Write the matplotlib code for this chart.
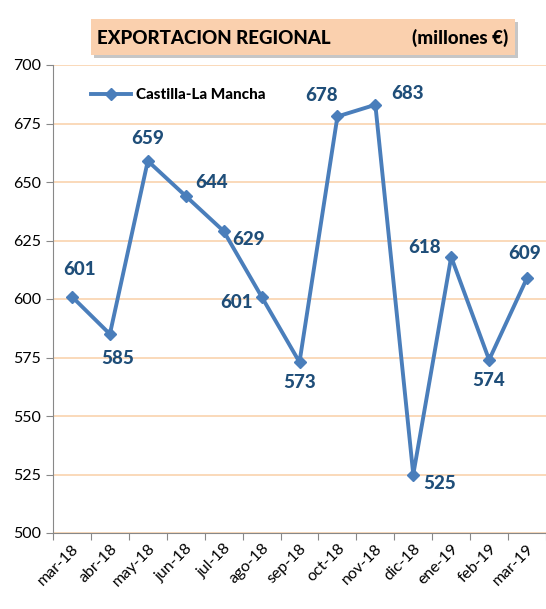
"""Exportacion regional Castilla-La Mancha, line chart."""
import matplotlib

matplotlib.use("Agg")
import matplotlib.pyplot as plt
from matplotlib.patches import FancyBboxPatch

months = ["mar-18", "abr-18", "may-18", "jun-18", "jul-18", "ago-18", "sep-18",
          "oct-18", "nov-18", "dic-18", "ene-19", "feb-19", "mar-19"]
exports = [601, 585, 659, 644, 629, 601, 573, 678, 683, 525, 618, 574, 609]
y_ticks = [500, 525, 550, 575, 600, 625, 650, 675, 700]

# label offsets in pixels (dx, dy) relative to each point
label_offsets = [(8, 27), (8, -24), (0, 22), (26, 14), (25, -8), (-25, -6),
                 (0, -20), (-16, 21), (32, 11), (26, -9), (-27, 9), (0, -21), (-2, 24)]

LINE_COLOR = "#4A7EBB"
LABEL_COLOR = "#1F4E79"
GRID_COLOR = "#F9D3AE"

plt.rcParams["font.family"] = ["Lato", "DejaVu Sans"]

fig = plt.figure(figsize=(5.46, 6.09), dpi=100)
ax = fig.add_axes([53 / 546, 1 - 533 / 609, 1 - 53 / 546, (533 - 65) / 609])

x = list(range(len(months)))
ax.plot(x, exports, color=LINE_COLOR, linewidth=2.8, marker="D", markersize=6,
        label="Castilla-La Mancha", zorder=3)

for xi, val, (dx, dy) in zip(x, exports, label_offsets):
    ax.annotate(str(val), (xi, val), xytext=(dx, dy), textcoords="offset pixels",
                ha="center", va="center", fontsize=13.5, fontweight="black",
                color=LABEL_COLOR)

ax.set_ylim(500, 700)
ax.set_yticks(y_ticks)
ax.set_xlim(-0.5, len(months) - 0.5)
ax.set_xticks([i - 0.5 for i in range(len(months) + 1)], labels=[])
ax.set_xticks(x, labels=months, minor=True)
ax.tick_params(axis="x", which="minor", length=0, pad=6)
ax.tick_params(axis="x", which="major", length=5, color="#888888")
ax.tick_params(axis="y", length=5, color="#888888", labelsize=11.5)
for lbl in ax.get_xticklabels(minor=True):
    lbl.set_rotation(45)
    lbl.set_ha("right")
    lbl.set_rotation_mode("anchor")
    lbl.set_fontsize(11.5)

ax.grid(axis="y", color=GRID_COLOR, linewidth=1.2)
ax.set_axisbelow(True)
for side in ("top", "right"):
    ax.spines[side].set_visible(False)
for side in ("left", "bottom"):
    ax.spines[side].set_color("#888888")

leg = ax.legend(loc="upper left", bbox_to_anchor=(0.05, 0.98), frameon=False,
                prop={"weight": "black", "size": 11}, handlelength=2.6,
                handletextpad=0.3)

# title box with shadow
shadow = FancyBboxPatch((94 / 546, 1 - 58 / 609), 424 / 546, 36 / 609,
                        boxstyle="square,pad=0", transform=fig.transFigure,
                        facecolor="#A0A0A0", edgecolor="none", alpha=0.6)
box = FancyBboxPatch((91 / 546, 1 - 55 / 609), 424 / 546, 36 / 609,
                     boxstyle="square,pad=0", transform=fig.transFigure,
                     facecolor="#FAD0AE", edgecolor="none")
fig.patches.extend([shadow, box])
fig.text(97 / 546, 1 - 38 / 609, "EXPORTACION REGIONAL", fontsize=13.5,
         fontweight="black", va="center", ha="left")
fig.text(508 / 546, 1 - 38 / 609, "(millones €)", fontsize=13.5,
         fontweight="black", va="center", ha="right")

fig.savefig("out.png", dpi=100)
